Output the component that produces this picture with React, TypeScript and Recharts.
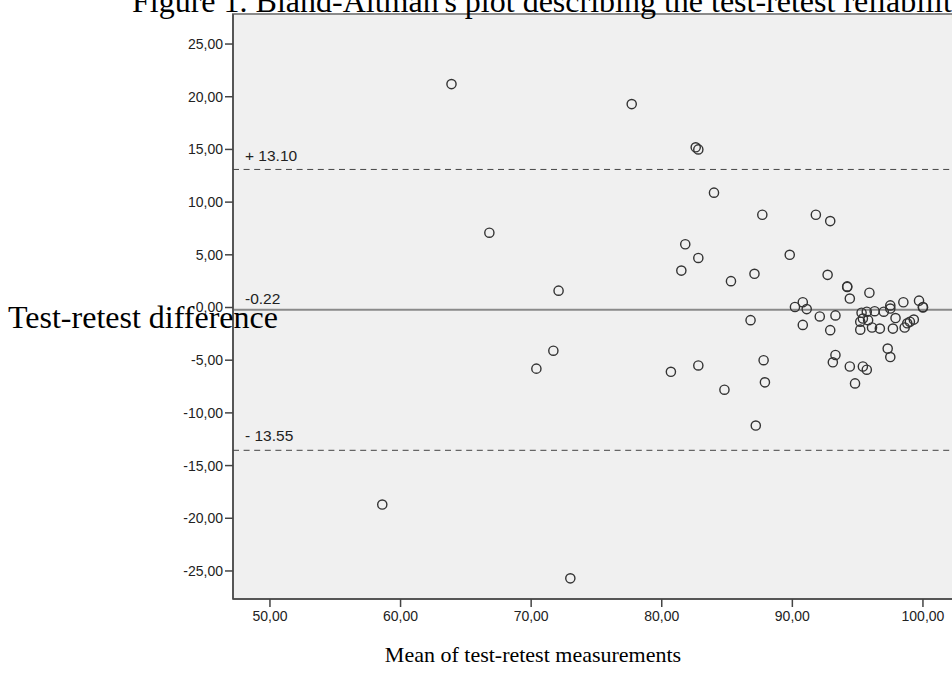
import React from 'react';
import {
  ScatterChart,
  Scatter,
  XAxis,
  YAxis,
  ReferenceLine,
  ReferenceArea,
} from 'recharts';

// mean of the two measurements (x) and their difference (y)
const meanValues = [
  63.9, 66.8, 72.1, 71.7, 70.4, 58.6, 73.0, 77.7, 82.6, 82.8,
  84.0, 87.7, 91.8, 92.9, 81.8, 82.8, 81.5, 89.8, 85.3, 87.1,
  92.7, 94.2, 94.2, 95.9, 94.4, 98.5, 99.7, 100.0, 100.0, 90.8,
  90.2, 91.1, 92.1, 93.3, 90.8, 86.8, 97.5, 97.5, 97.9, 99.3,
  99.0, 98.8, 98.6, 97.7, 96.7, 96.1, 95.2, 97.0, 96.3, 95.7,
  95.3, 95.4, 95.8, 97.3, 97.5, 95.4, 92.9, 95.2, 87.8, 93.3,
  93.1, 94.4, 80.7, 82.8, 84.8, 87.9, 87.2, 95.7, 94.8,
];
const diffValues = [
  21.2, 7.1, 1.6, -4.1, -5.8, -18.7, -25.7, 19.3, 15.2, 15.0,
  10.9, 8.8, 8.8, 8.2, 6.0, 4.7, 3.5, 5.0, 2.5, 3.2,
  3.1, 1.95, 2.0, 1.4, 0.85, 0.5, 0.65, 0.05, 0.0, 0.5,
  0.05, -0.15, -0.85, -0.75, -1.65, -1.2, 0.2, -0.1, -1.0, -1.15,
  -1.35, -1.5, -1.9, -2.0, -2.0, -1.9, -2.1, -0.4, -0.35, -0.4,
  -0.5, -1.05, -1.2, -3.9, -4.7, -5.6, -2.15, -1.35, -5.0, -4.5,
  -5.2, -5.6, -6.1, -5.5, -7.8, -7.1, -11.2, -5.9, -7.2,
];

const xTicks = [50, 60, 70, 80, 90, 100];
const yTicks = [-25, -20, -15, -10, -5, 0, 5, 10, 15, 20, 25];

const meanDiff = -0.22;
const upperLimit = 13.1;
const lowerLimit = -13.55;

const X_DOMAIN: [number, number] = [47.17, 105.9];
const Y_DOMAIN: [number, number] = [-27.66, 27.85];

const data = meanValues.map((m, i) => ({ mean: m, diff: diffValues[i] }));

const fmt = (v: number) => v.toFixed(2).replace('.', ',');

const sans = '"Liberation Sans", Arial, sans-serif';
const serif = '"Liberation Serif", "Times New Roman", serif';

const Ring = (props: any) => (
  <circle cx={props.cx} cy={props.cy} r={4.6} fill="none" stroke="#333" strokeWidth={1.4} />
);

const LineLabel = (props: any) => {
  const vb = props.viewBox || {};
  return (
    <text x={vb.x + 12} y={vb.y + props.dy} fontSize={15.5} fontFamily={sans} fill="#222">
      {props.text}
    </text>
  );
};

export default function App() {
  return (
    <div style={{ position: 'absolute', left: 0, top: 0, width: 952, height: 677, overflow: 'hidden', background: '#fff' }}>
      <ScatterChart width={1000} height={677} margin={{ top: 14, right: 0, left: 0, bottom: 0 }}>
        <ReferenceArea
          x1={X_DOMAIN[0]}
          x2={X_DOMAIN[1]}
          y1={Y_DOMAIN[0]}
          y2={Y_DOMAIN[1]}
          fill="#f0f0f0"
          fillOpacity={1}
          stroke="#8a8a8a"
          strokeWidth={2}
        />
        <XAxis
          type="number"
          dataKey="mean"
          domain={X_DOMAIN}
          ticks={xTicks}
          tickFormatter={fmt}
          height={78}
          tickSize={8}
          tickMargin={4}
          stroke="#444"
          strokeWidth={1.5}
          tick={{ fontSize: 14, fontFamily: sans, fill: '#222' }}
          allowDataOverflow
        />
        <YAxis
          type="number"
          dataKey="diff"
          domain={Y_DOMAIN}
          ticks={yTicks}
          tickFormatter={fmt}
          width={233}
          tickSize={8}
          tickMargin={2}
          stroke="#444"
          strokeWidth={1.5}
          tick={{ fontSize: 14, fontFamily: sans, fill: '#222' }}
          allowDataOverflow
        />
        <ReferenceLine
          y={upperLimit}
          stroke="#444"
          strokeDasharray="6 4.6"
          label={<LineLabel text="+ 13.10" dy={-8} />}
        />
        <ReferenceLine
          y={meanDiff}
          stroke="#8a8a8a"
          strokeWidth={2}
          label={<LineLabel text="-0.22" dy={-6} />}
        />
        <ReferenceLine
          y={lowerLimit}
          stroke="#444"
          strokeDasharray="6 4.6"
          label={<LineLabel text="- 13.55" dy={-9} />}
        />
        <Scatter data={data} shape={<Ring />} isAnimationActive={false} />
      </ScatterChart>
      <svg width={952} height={677} style={{ position: 'absolute', left: 0, top: 0, pointerEvents: 'none' }}>
        <text x={132} y={12} fontSize={32} fontFamily={serif} fill="#000">
          Figure 1. Bland-Altman's plot describing the test-retest reliability
        </text>
        <text x={8} y={328} fontSize={32} fontFamily={serif} fill="#000">
          Test-retest difference
        </text>
        <text x={533} y={662} fontSize={22} fontFamily={serif} fill="#000" textAnchor="middle">
          Mean of test-retest measurements
        </text>
      </svg>
    </div>
  );
}
